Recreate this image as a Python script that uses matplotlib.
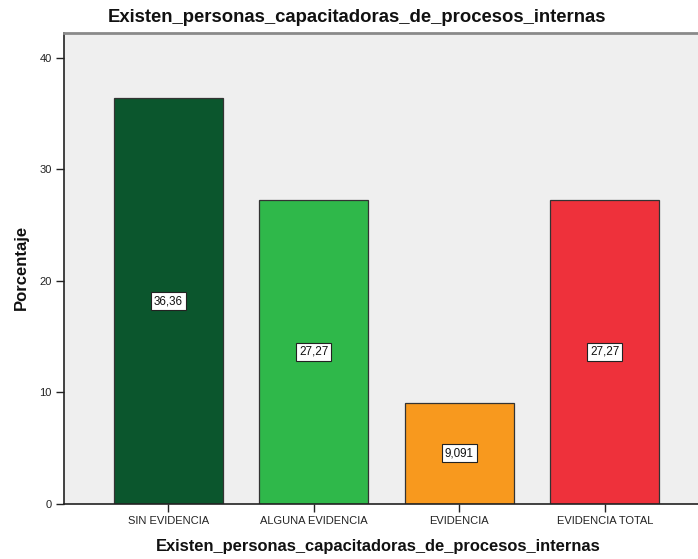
import matplotlib
matplotlib.use("Agg")
import matplotlib.pyplot as plt

categories = ["SIN EVIDENCIA", "ALGUNA EVIDENCIA", "EVIDENCIA", "EVIDENCIA TOTAL"]
porcentajes = [36.36, 27.27, 9.091, 27.27]
etiquetas = ["36,36", "27,27", "9,091", "27,27"]
colores = ["#0b562d", "#2fb84a", "#f8991e", "#ee313b"]
yticks = [0, 10, 20, 30, 40]

plt.rcParams["font.family"] = ["Liberation Sans", "DejaVu Sans"]

W, H = 698, 559
fig = plt.figure(figsize=(W / 100, H / 100), dpi=100)
ax = fig.add_axes([64 / W, 1 - 504 / H, (W - 64) / W, (504 - 33) / H])
ax.set_facecolor("#efefef")

x = range(len(categories))
ax.bar(x, porcentajes, width=0.75, color=colores, edgecolor="#333333", linewidth=0.9, zorder=2)

for xi, v, lab in zip(x, porcentajes, etiquetas):
    ax.text(xi, v / 2, lab, ha="center", va="center", fontsize=8.4, color="#111111", zorder=3,
            bbox=dict(boxstyle="square,pad=0.25", facecolor="white", edgecolor="#222222", linewidth=0.8))

ax.set_xlim(-0.718, 3.64)
ax.set_ylim(0, 42.2)
ax.set_yticks(yticks)
ax.set_yticklabels([str(t) for t in yticks], fontsize=8, color="#222222")
ax.set_xticks(list(x))
ax.set_xticklabels(categories, fontsize=8, color="#222222")
ax.tick_params(axis="both", direction="out", length=6, width=1, color="#222222", pad=3)

for side in ["left", "bottom"]:
    ax.spines[side].set_color("#222222")
    ax.spines[side].set_linewidth(1.2)
ax.spines["top"].set_color("#8a8a8a")
ax.spines["top"].set_linewidth(2)
ax.spines["right"].set_visible(False)

fig.text(357 / W, 1 - 18 / H, "Existen_personas_capacitadoras_de_procesos_internas",
         ha="center", va="center", fontsize=13.3, fontweight="bold", color="#111111")
fig.text(378 / W, 1 - 546 / H, "Existen_personas_capacitadoras_de_procesos_internas",
         ha="center", va="center", fontsize=11.9, fontweight="bold", color="#111111")
fig.text(21 / W, 1 - 267 / H, "Porcentaje", rotation=90,
         ha="center", va="center", fontsize=12, fontweight="bold", color="#111111")

fig.savefig("out.png", dpi=100, facecolor="white")
